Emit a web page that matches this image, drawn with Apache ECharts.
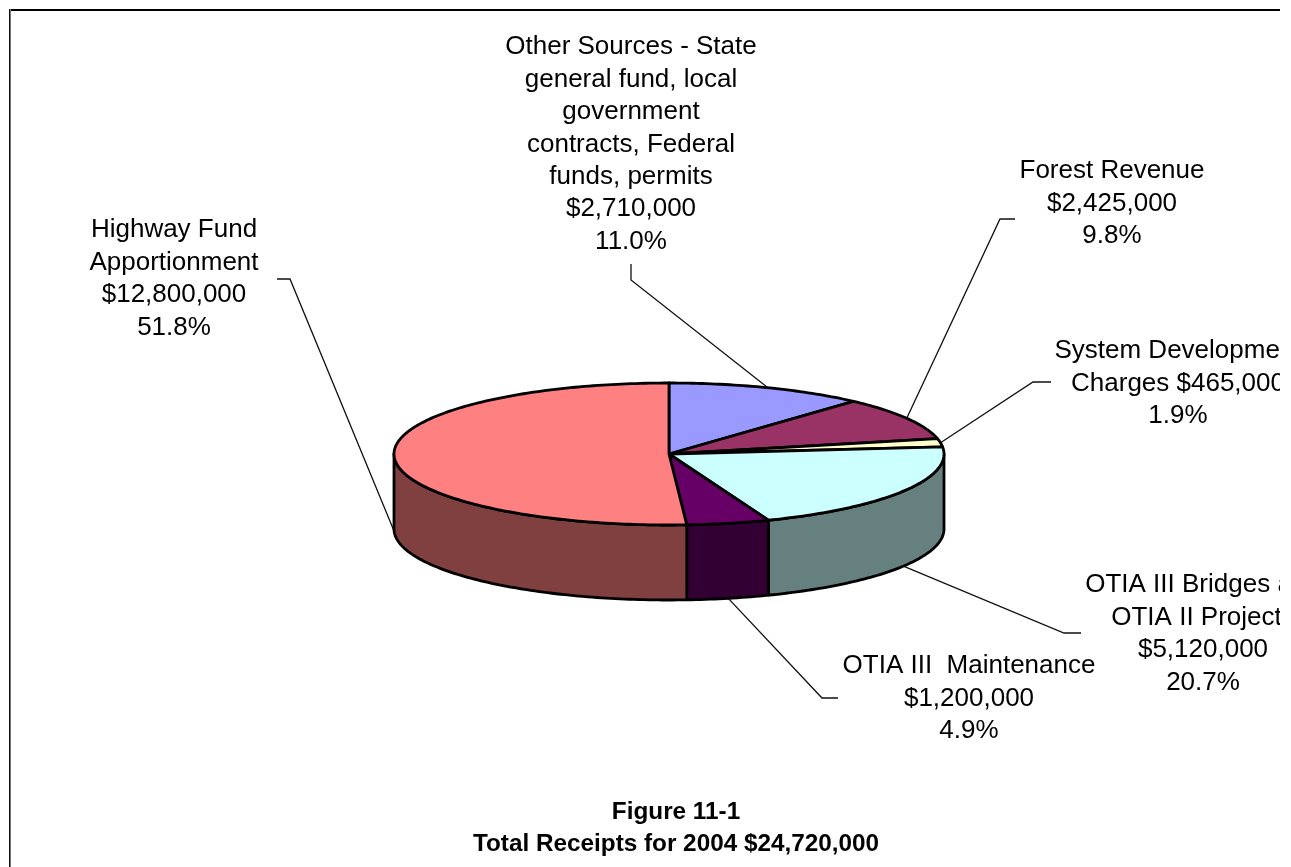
<!DOCTYPE html>
<html>
<head>
<meta charset="utf-8">
<title>Total Receipts for 2004</title>
<script src="https://cdn.jsdelivr.net/npm/echarts@6/dist/echarts.min.js"></script>
<style>
  html, body { margin: 0; padding: 0; background: #fff; }
  #chart { width: 1280px; height: 867px; overflow: hidden; }
</style>
</head>
<body>
<div id="chart"></div>
<script>
// Receipts by source, clockwise from twelve o'clock.
const categories = [
  'Other Sources - State\ngeneral fund, local\ngovernment\ncontracts, Federal\nfunds, permits\n{v}',
  'Forest Revenue\n{v}',
  'System Development\nCharges {v}',
  'OTIA III Bridges and\nOTIA II Projects\n{v}',
  'OTIA III  Maintenance\n{v}',
  'Highway Fund\nApportionment\n{v}'
];
const receipts = [2710000, 2425000, 465000, 5120000, 1200000, 12800000];
const titleLines = ['Figure 11-1', 'Total Receipts for 2004 $24,720,000'];

// Slice colours: top face, and the darker wall below it.
const topColors = ['#9999FF', '#993366', '#FFFFCC', '#CCFFFF', '#660066', '#FF8080'];
const wallColors = ['#4D4D80', '#4D1A33', '#808066', '#668080', '#330033', '#804040'];

// Pie geometry on the page.
const pie = { cx: 669, cy: 454, rx: 275, ry: 71, depth: 75, skew: 2.7 };

// Label centres (top of the first line) and leader elbows: [label end, elbow].
const labelPos = [[631, 31], [1112, 155], [1178, 335], [1203, 569], [969, 650], [174, 214]];
const leaderElbows = [
  [[631, 264], [631, 280]],
  [[1015, 219], [1000, 219]],
  [[1051, 382], [1033, 382]],
  [[1081, 633], [1064, 633]],
  [[838, 698], [822, 698]],
  [[277, 279], [290, 279]]
];

const total = receipts.reduce((a, b) => a + b, 0);
const money = v => '$' + v.toLocaleString('en-US');

// Boundary angles in degrees; the tilted view pushes inner boundaries slightly clockwise.
const bounds = [0];
let running = 0;
receipts.forEach((v, i) => {
  running += v;
  bounds.push(i === receipts.length - 1 ? 360 : running / total * 360 + pie.skew);
});

function rimPoint(deg, drop) {
  const a = deg * Math.PI / 180;
  return [pie.cx + pie.rx * Math.sin(a), pie.cy - pie.ry * Math.cos(a) + (drop || 0)];
}

function arc(from, to, drop) {
  const pts = [];
  const n = Math.max(2, Math.ceil(Math.abs(to - from)));
  for (let k = 0; k <= n; k++) pts.push(rimPoint(from + (to - from) * k / n, drop));
  return pts;
}

function renderWall(params, api) {
  const i = api.value(0);
  const from = Math.max(bounds[i], 90);
  const to = Math.min(bounds[i + 1], 270);
  if (to <= from) return { type: 'group', children: [] };
  return {
    type: 'polygon',
    shape: { points: arc(from, to, 0).concat(arc(to, from, pie.depth)) },
    style: { fill: wallColors[i], stroke: '#000', lineWidth: 2.8, lineJoin: 'round' }
  };
}

function renderTop(params, api) {
  const i = api.value(0);
  return {
    type: 'polygon',
    shape: { points: [[pie.cx, pie.cy]].concat(arc(bounds[i], bounds[i + 1], 0)) },
    style: { fill: topColors[i], stroke: '#000', lineWidth: 2.8, lineJoin: 'round' }
  };
}

function renderLabel(params, api) {
  const i = api.value(0);
  const value = api.value(1);
  const mid = (bounds[i] + bounds[i + 1]) / 2;
  const onWall = mid > 90 && mid < 270;
  const anchor = rimPoint(mid, onWall ? pie.depth : 0);
  const pct = (value / total * 100).toFixed(1) + '%';
  return {
    type: 'group',
    children: [
      {
        type: 'polyline',
        shape: { points: leaderElbows[i].concat([anchor]) },
        style: { fill: null, stroke: '#111', lineWidth: 1.3 }
      },
      {
        type: 'text',
        style: {
          x: labelPos[i][0],
          y: labelPos[i][1],
          text: categories[i].replace('{v}', money(value)) + '\n' + pct,
          align: 'center',
          verticalAlign: 'top',
          font: '26px "Liberation Sans", Arial, sans-serif',
          lineHeight: 32.4,
          fill: '#000'
        }
      }
    ]
  };
}

const rows = receipts.map((v, i) => [i, v]);
const chart = echarts.init(document.getElementById('chart'), null, { renderer: 'canvas' });
chart.setOption({
  animation: false,
  backgroundColor: '#fff',
  title: {
    text: titleLines.join('\n'),
    left: 676,
    top: 796,
    textAlign: 'center',
    padding: 0,
    textStyle: {
      fontFamily: '"Liberation Sans", Arial, sans-serif',
      fontWeight: 'bold',
      fontSize: 24.3,
      lineHeight: 32,
      color: '#000'
    }
  },
  graphic: [
    { type: 'rect', shape: { x: 9, y: 9, width: 1271, height: 2 }, style: { fill: '#000' } },
    { type: 'rect', shape: { x: 9, y: 9, width: 1, height: 858 }, style: { fill: '#111' } },
    { type: 'rect', shape: { x: 10, y: 9, width: 1, height: 858 }, style: { fill: '#777' } }
  ],
  series: [
    { type: 'custom', coordinateSystem: 'none', z: 2, renderItem: renderWall, data: rows },
    { type: 'custom', coordinateSystem: 'none', z: 3, renderItem: renderTop, data: rows },
    { type: 'custom', coordinateSystem: 'none', z: 1, renderItem: renderLabel, data: rows }
  ]
});
</script>
</body>
</html>
